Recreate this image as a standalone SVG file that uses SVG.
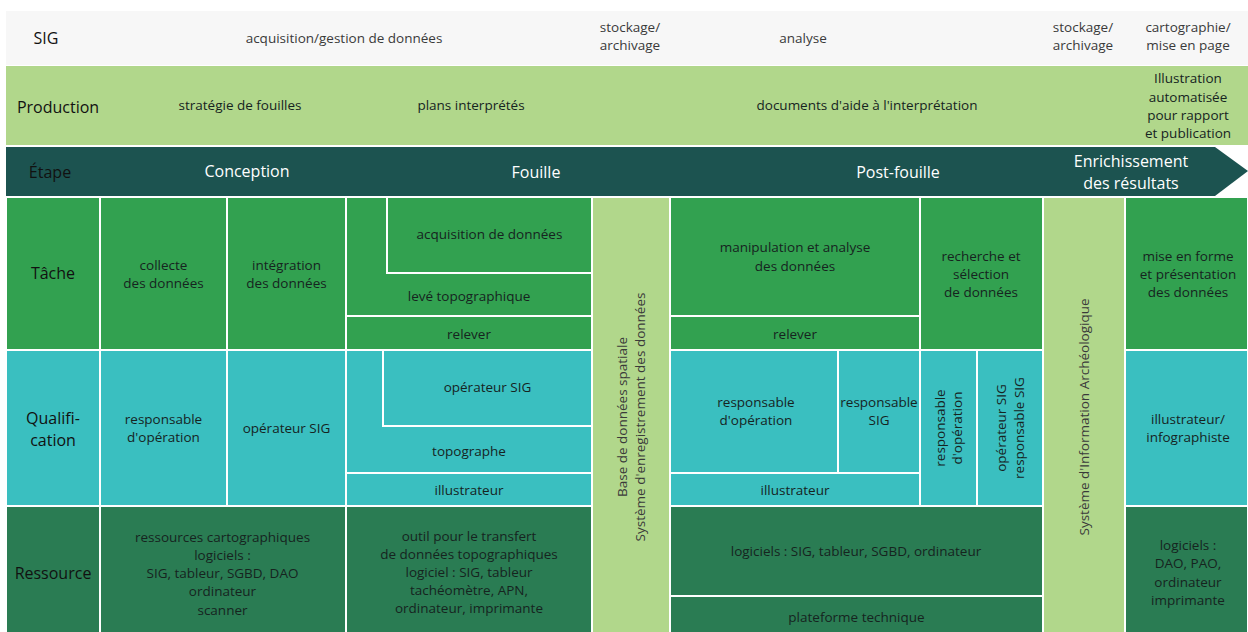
<svg xmlns="http://www.w3.org/2000/svg" width="1248" height="632" viewBox="0 0 1248 632">
<style>
text{font-family:"Open Sans","Noto Sans","Liberation Sans",sans-serif;text-anchor:middle}
.hd{font-size:16px;fill:#111}
.t{font-size:13.5px;fill:#16241f}
.s{font-size:13.5px;fill:#3a3a3a}
.w{font-size:16px;fill:#ffffff}
.c rect{stroke:#ffffff;stroke-width:2}
.ta{fill:#32a150}
.qu{fill:#3abfc0}
.re{fill:#2a7c53}
.lg{fill:#b1d78b}
</style>
<rect width="1248" height="632" fill="#ffffff"/>
<g id="band-sig">
<rect x="6" y="11" width="1242" height="54" fill="#f7f7f7"/>
<text class="hd" x="46" y="44">SIG</text>
<text class="s" x="344" y="43">acquisition/gestion de données</text>
<text class="s" x="630" y="32">stockage/</text>
<text class="s" x="630" y="50">archivage</text>
<text class="s" x="803" y="43">analyse</text>
<text class="s" x="1083" y="32">stockage/</text>
<text class="s" x="1083" y="50">archivage</text>
<text class="s" x="1188" y="32">cartographie/</text>
<text class="s" x="1188" y="50">mise en page</text>
</g>
<g id="band-production">
<rect x="6" y="66" width="1242" height="79" fill="#b1d78b"/>
<text class="hd" x="58" y="113">Production</text>
<text class="t" x="240" y="110">stratégie de fouilles</text>
<text class="t" x="471" y="110">plans interprétés</text>
<text class="t" x="867" y="110">documents d'aide à l'interprétation</text>
<text class="t" x="1188" y="83">Illustration</text>
<text class="t" x="1188" y="102">automatisée</text>
<text class="t" x="1188" y="120">pour rapport</text>
<text class="t" x="1188" y="138">et publication</text>
</g>
<g id="band-etape">
<polygon points="6,147 1215,147 1248,171 1215,196 6,196" fill="#1c5350"/>
<text class="hd" x="50" y="178">Étape</text>
<text class="w" x="247" y="177">Conception</text>
<text class="w" x="536" y="178">Fouille</text>
<text class="w" x="898" y="178">Post-fouille</text>
<text class="w" x="1131" y="167">Enrichissement</text>
<text class="w" x="1131" y="189">des résultats</text>
</g>
<g id="row-tache" class="c">
<g id="h-tache"><rect class="ta" x="6" y="197" width="94" height="153"/><text class="hd" x="53" y="279">Tâche</text></g>
<g id="t-collecte"><rect class="ta" x="100" y="197" width="127" height="153"/><text class="t" x="163.5" y="270">collecte</text><text class="t" x="163.5" y="288">des données</text></g>
<g id="t-integration"><rect class="ta" x="227" y="197" width="119" height="153"/><text class="t" x="286.5" y="270">intégration</text><text class="t" x="286.5" y="288">des données</text></g>
<g id="t-leve"><rect class="ta" x="346" y="197" width="246" height="119"/><text class="t" x="469" y="301">levé topographique</text></g>
<g id="t-acquisition"><rect class="ta" x="387" y="197" width="205" height="76"/><text class="t" x="489.5" y="239">acquisition de données</text></g>
<g id="t-relever1"><rect class="ta" x="346" y="316" width="246" height="34"/><text class="t" x="469" y="339">relever</text></g>
<g id="t-manip"><rect class="ta" x="670" y="197" width="250" height="119"/><text class="t" x="795" y="252">manipulation et analyse</text><text class="t" x="795" y="271">des données</text></g>
<g id="t-relever2"><rect class="ta" x="670" y="316" width="250" height="34"/><text class="t" x="795" y="339">relever</text></g>
<g id="t-recherche"><rect class="ta" x="920" y="197" width="123" height="153"/><text class="t" x="981" y="261">recherche et</text><text class="t" x="981" y="279">sélection</text><text class="t" x="981" y="297">de données</text></g>
<g id="t-miseenforme"><rect class="ta" x="1125" y="197" width="123" height="153"/><text class="t" x="1188" y="261">mise en forme</text><text class="t" x="1188" y="279">et présentation</text><text class="t" x="1188" y="297">des données</text></g>
</g>
<g id="row-qualification" class="c">
<g id="h-qualif"><rect class="qu" x="6" y="350" width="94" height="156"/><text class="hd" x="53" y="424">Qualifi-</text><text class="hd" x="53" y="446">cation</text></g>
<g id="q-resp1"><rect class="qu" x="100" y="350" width="127" height="156"/><text class="t" x="163.5" y="424">responsable</text><text class="t" x="163.5" y="442">d'opération</text></g>
<g id="q-op1"><rect class="qu" x="227" y="350" width="119" height="156"/><text class="t" x="286.5" y="433">opérateur SIG</text></g>
<g id="q-topo"><rect class="qu" x="346" y="350" width="246" height="123"/><text class="t" x="469" y="456">topographe</text></g>
<g id="q-op2"><rect class="qu" x="383" y="350" width="209" height="76"/><text class="t" x="487.5" y="392">opérateur SIG</text></g>
<g id="q-illu1"><rect class="qu" x="346" y="473" width="246" height="33"/><text class="t" x="469" y="495">illustrateur</text></g>
<g id="q-resp2"><rect class="qu" x="670" y="350" width="168" height="123"/><text class="t" x="756" y="407">responsable</text><text class="t" x="756" y="425">d'opération</text></g>
<g id="q-respsig"><rect class="qu" x="838" y="350" width="82" height="123"/><text class="t" x="879" y="407">responsable</text><text class="t" x="879" y="425">SIG</text></g>
<g id="q-illu2"><rect class="qu" x="670" y="473" width="250" height="33"/><text class="t" x="795" y="495">illustrateur</text></g>
<g id="q-resp3"><rect class="qu" x="920" y="350" width="57" height="156"/><text class="t" transform="translate(948,428) rotate(-90)" x="0" y="-3">responsable</text><text class="t" transform="translate(948,428) rotate(-90)" x="0" y="14">d'opération</text></g>
<g id="q-opresp"><rect class="qu" x="977" y="350" width="66" height="156"/><text class="t" transform="translate(1010,428) rotate(-90)" x="0" y="-4">opérateur SIG</text><text class="t" transform="translate(1010,428) rotate(-90)" x="0" y="14">responsable SIG</text></g>
<g id="q-illu3"><rect class="qu" x="1125" y="350" width="123" height="156"/><text class="t" x="1188" y="424">illustrateur/</text><text class="t" x="1188" y="442">infographiste</text></g>
</g>
<g id="row-ressource" class="c">
<g id="h-ressource"><rect class="re" x="6" y="506" width="94" height="128"/><text class="hd" x="53" y="579">Ressource</text></g>
<g id="r-carto"><rect class="re" x="100" y="506" width="246" height="128"/><text class="t" x="222.5" y="542">ressources cartographiques</text><text class="t" x="222.5" y="560">logiciels :</text><text class="t" x="222.5" y="578">SIG, tableur, SGBD, DAO</text><text class="t" x="222.5" y="596">ordinateur</text><text class="t" x="222.5" y="615">scanner</text></g>
<g id="r-outil"><rect class="re" x="346" y="506" width="246" height="128"/><text class="t" x="469" y="541">outil pour le transfert</text><text class="t" x="469" y="559">de données topographiques</text><text class="t" x="469" y="577">logiciel : SIG, tableur</text><text class="t" x="469" y="595">tachéomètre, APN,</text><text class="t" x="469" y="613">ordinateur, imprimante</text></g>
<g id="r-logiciels"><rect class="re" x="670" y="506" width="373" height="90"/><text class="t" x="856" y="556">logiciels : SIG, tableur, SGBD, ordinateur</text></g>
<g id="r-plateforme"><rect class="re" x="670" y="596" width="373" height="38"/><text class="t" x="856.5" y="622">plateforme technique</text></g>
<g id="r-logiciels2"><rect class="re" x="1125" y="506" width="123" height="128"/><text class="t" x="1188" y="550">logiciels :</text><text class="t" x="1188" y="568">DAO, PAO,</text><text class="t" x="1188" y="587">ordinateur</text><text class="t" x="1188" y="605">imprimante</text></g>
</g>
<g id="col-base" class="c">
<rect class="lg" x="592" y="197" width="78" height="437"/>
<text class="s" transform="translate(631,417) rotate(-90)" x="0" y="-4">Base de données spatiale</text>
<text class="s" transform="translate(631,417) rotate(-90)" x="0" y="14">Système d'enregistrement des données</text>
</g>
<g id="col-sia" class="c">
<rect class="lg" x="1043" y="197" width="82" height="437"/>
<text class="s" transform="translate(1084,417) rotate(-90)" x="0" y="5">Système d'Information Archéologique</text>
</g>
</svg>
